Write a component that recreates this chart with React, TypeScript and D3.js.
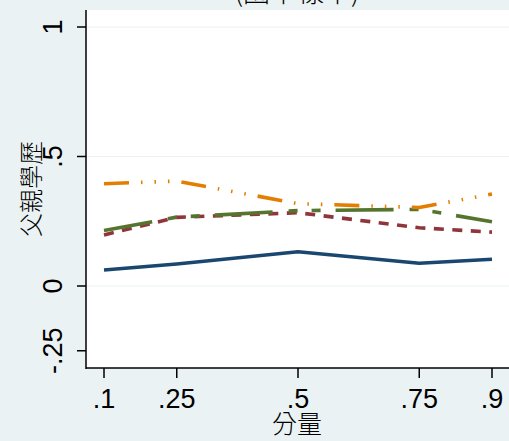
import React from "react";
import * as d3 from "d3";

// Quantile points on the x axis
const quantiles: number[] = [0.1, 0.25, 0.5, 0.75, 0.9];

// Coefficient estimates per series, one value per quantile
const seriesNavy: number[] = [0.062, 0.085, 0.132, 0.088, 0.103];
const seriesMaroon: number[] = [0.197, 0.265, 0.283, 0.225, 0.208];
const seriesGreen: number[] = [0.214, 0.266, 0.291, 0.296, 0.248];
const seriesOrange: number[] = [0.395, 0.405, 0.318, 0.303, 0.355];

const xTicks: number[] = [0.1, 0.25, 0.5, 0.75, 0.9];
const xTickLabels: string[] = [".1", ".25", ".5", ".75", ".9"];
const yTicks: number[] = [-0.25, 0, 0.5, 1];
const yTickLabels: string[] = ["-.25", "0", ".5", "1"];
const gridValues: number[] = [0, 0.5, 1];

const titleText = "(國中樣本)";
const xTitle = "分量";
const yTitle = "父親學歷";

const W = 509;
const H = 441;
const BG = "#eaf2f3";
const latin = "'Liberation Sans', Arial, sans-serif";
const cjk = "'Noto Sans CJK TC', 'Noto Sans CJK SC', sans-serif";

const plotLeft = 86;
const plotRight = 509;
const plotTop = 10;
const plotBottom = 368;

const x = d3.scaleLinear().domain([0.1, 0.9]).range([104, 492]);
const y = d3.scaleLinear().domain([0, 1]).range([286, 27]);

const line = d3
  .line<[number, number]>()
  .x((d) => x(d[0]))
  .y((d) => y(d[1]));

const pathOf = (vals: number[]) =>
  line(quantiles.map((q, i) => [q, vals[i]] as [number, number])) || "";

const styles = [
  { vals: seriesNavy, color: "#1a476f", dash: undefined, offset: 0 },
  { vals: seriesMaroon, color: "#90353b", dash: "10 8.5", offset: 0 },
  { vals: seriesGreen, color: "#55752f", dash: "58 16 9 14 9 15", offset: 9 },
  { vals: seriesOrange, color: "#e37e00", dash: "25 12 1.5 12 1.5 12 1.5 12", offset: 0 },
];

export default function App() {
  return (
    <svg
      width={W}
      height={H}
      style={{ position: "absolute", left: 0, top: 0, display: "block" }}
    >
      <rect x={0} y={0} width={W} height={H} fill={BG} />
      <rect
        x={plotLeft}
        y={plotTop}
        width={plotRight - plotLeft}
        height={plotBottom - plotTop}
        fill="#ffffff"
      />
      {gridValues.map((v) => (
        <line
          key={"g" + v}
          x1={plotLeft}
          x2={plotRight}
          y1={y(v)}
          y2={y(v)}
          stroke={BG}
          strokeWidth={1.2}
        />
      ))}
      {styles.map((s, i) => (
        <path
          key={"s" + i}
          d={pathOf(s.vals)}
          fill="none"
          stroke={s.color}
          strokeWidth={3.6}
          strokeDasharray={s.dash}
          strokeDashoffset={s.offset}
          strokeLinejoin="round"
        />
      ))}
      {/* axes */}
      <line x1={plotLeft} x2={plotLeft} y1={plotTop} y2={plotBottom + 1} stroke="#000" strokeWidth={1.5} />
      <line x1={plotLeft} x2={plotRight} y1={plotBottom} y2={plotBottom} stroke="#000" strokeWidth={1.5} />
      {yTicks.map((t, i) => (
        <g key={"yt" + t}>
          <line x1={plotLeft - 9} x2={plotLeft} y1={y(t)} y2={y(t)} stroke="#000" strokeWidth={1.5} />
          <text
            transform={`translate(${62},${y(t)}) rotate(-90)`}
            textAnchor="middle"
            fontFamily={latin}
            fontSize={27}
            fill="#000"
          >
            {yTickLabels[i]}
          </text>
        </g>
      ))}
      {xTicks.map((t, i) => (
        <g key={"xt" + t}>
          <line x1={x(t)} x2={x(t)} y1={plotBottom} y2={plotBottom + 10} stroke="#000" strokeWidth={1.5} />
          <text
            x={x(t)}
            y={408}
            textAnchor="middle"
            fontFamily={latin}
            fontSize={27}
            fill="#000"
          >
            {xTickLabels[i]}
          </text>
        </g>
      ))}
      <text
        x={297}
        y={433}
        textAnchor="middle"
        fontFamily={cjk}
        fontSize={25}
        fontWeight={300}
        fill="#000"
      >
        {xTitle}
      </text>
      <text
        transform={`translate(${40},${189}) rotate(-90)`}
        textAnchor="middle"
        fontFamily={cjk}
        fontSize={24}
        fontWeight={300}
        fill="#000"
      >
        {yTitle}
      </text>
      <text
        x={297}
        y={2}
        textAnchor="middle"
        fontFamily={cjk}
        fontSize={27}
        fontWeight={300}
        fill="#000"
      >
        {titleText}
      </text>
    </svg>
  );
}
